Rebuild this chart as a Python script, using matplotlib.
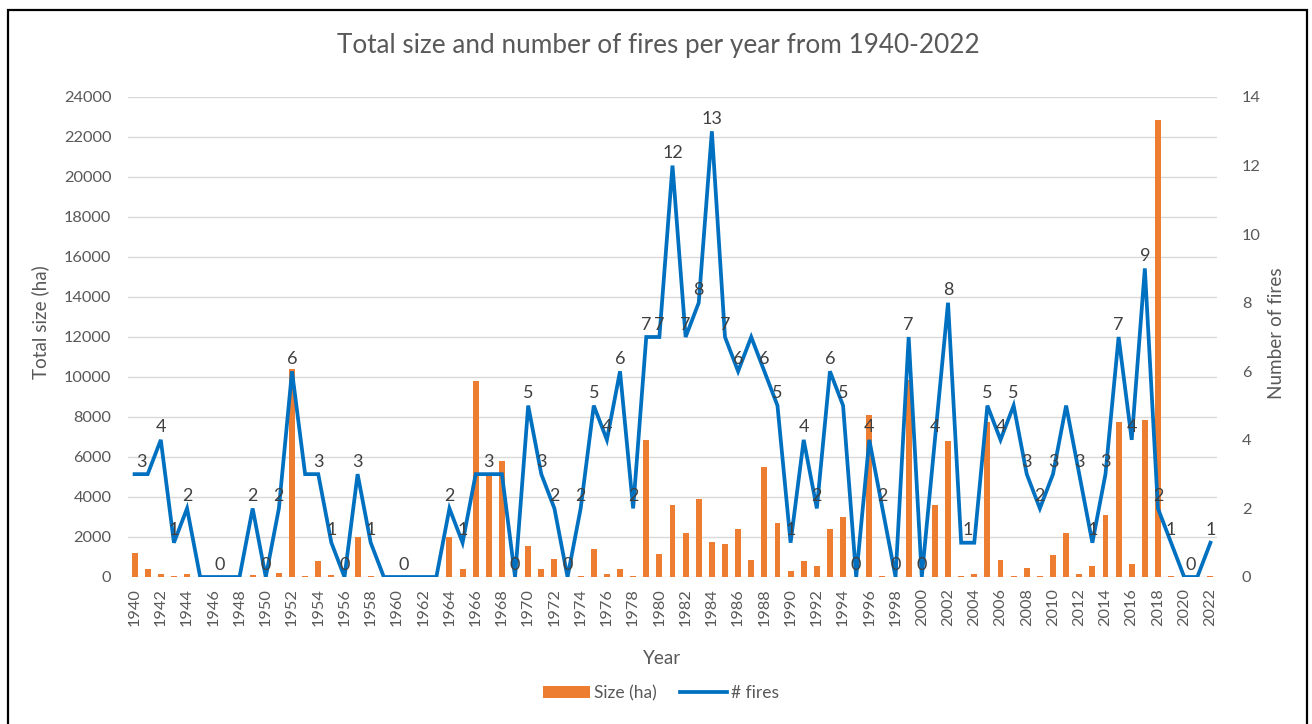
import matplotlib
matplotlib.use("Agg")
import matplotlib.pyplot as plt
from matplotlib.patches import Patch, Rectangle
from matplotlib.lines import Line2D
import numpy as np

plt.rcParams['font.family'] = ['Lato', 'DejaVu Sans']

years = list(range(1940, 2023))

size_ha = [1200, 400, 150, 50, 150, 0, 0, 0, 0, 100,
           0, 200, 10400, 50, 800, 100, 0, 2000, 50, 0,
           0, 0, 0, 0, 2000, 400, 9800, 5100, 5800, 0,
           1550, 400, 900, 0, 50, 1400, 150, 400, 50, 6870,
           1150, 3600, 2200, 3900, 1750, 1650, 2380, 870, 5500, 2680,
           300, 800, 550, 2400, 3000, 0, 8100, 50, 0, 9850,
           0, 3600, 6800, 50, 150, 7750, 870, 50, 450, 50,
           1100, 2180, 150, 550, 3100, 7750, 650, 7850, 22850, 50,
           0, 0, 50]

n_fires = [3, 3, 4, 1, 2, 0, 0, 0, 0, 2,
           0, 2, 6, 3, 3, 1, 0, 3, 1, 0,
           0, 0, 0, 0, 2, 1, 3, 3, 3, 0,
           5, 3, 2, 0, 2, 5, 4, 6, 2, 7,
           7, 12, 7, 8, 13, 7, 6, 7, 6, 5,
           1, 4, 2, 6, 5, 0, 4, 2, 0, 7,
           0, 4, 8, 1, 1, 5, 4, 5, 3, 2,
           3, 5, 3, 1, 3, 7, 4, 9, 2, 1,
           0, 0, 1]

# years whose data label is visible in the reference
label_years = [1940, 1942, 1943, 1944, 1946, 1949, 1950, 1951, 1952, 1954,
               1955, 1956, 1957, 1958, 1960, 1964, 1965, 1967, 1969, 1970,
               1971, 1972, 1973, 1974, 1975, 1976, 1977, 1978, 1979, 1980,
               1981, 1982, 1983, 1984, 1985, 1986, 1988, 1989, 1990, 1991,
               1992, 1993, 1994, 1995, 1996, 1997, 1998, 1999, 2000, 2001,
               2002, 2003, 2005, 2006, 2007, 2008, 2009, 2010, 2012, 2013,
               2014, 2015, 2016, 2017, 2018, 2019, 2020, 2022]
# labels centred on a flat run sit half a category to the right
label_shift = {1940: 0.5, 1946: 0.5, 1960: 0.5, 2003: 0.5, 2020: 0.5}

left_ticks = list(range(0, 24001, 2000))
right_ticks = list(range(0, 15, 2))

ORANGE = '#ED7D31'
BLUE = '#0070C0'
GREY_TXT = '#595959'
GRID = '#D9D9D9'

W, H = 1312, 724
fig = plt.figure(figsize=(W / 100, H / 100), dpi=100)
fig.patch.set_facecolor('white')

# chart border
border = Rectangle((8 / W, -0.05), (1307 - 8) / W, 1.05 - 10 / H, transform=fig.transFigure,
                   fill=False, edgecolor='black', linewidth=1.6, zorder=0)
fig.patches.append(border)

ax = fig.add_axes([128 / W, 1 - 577 / H, (1217 - 128) / W, (577 - 97) / H])
x = np.arange(len(years))
ax.bar(x, size_ha, width=0.45, color=ORANGE, zorder=2)
ax.set_xlim(-0.5, len(years) - 0.5)
ax.set_ylim(0, 24000)
ax.set_yticks(left_ticks)
ax.set_yticklabels([str(t) for t in left_ticks])
ax.grid(axis='y', color=GRID, linewidth=1.0, zorder=0)
ax.set_axisbelow(True)
for s in ax.spines.values():
    s.set_visible(False)
ax.tick_params(axis='both', length=0, colors=GREY_TXT, labelsize=11.8)
ax.tick_params(axis='y', pad=12)
ax.tick_params(axis='x', pad=8)
xt = [i for i, y in enumerate(years) if y % 2 == 0]
ax.set_xticks(xt)
ax.set_xticklabels([str(years[i]) for i in xt], rotation=90)

ax2 = ax.twinx()
ax2.plot(x, n_fires, color=BLUE, linewidth=2.7, zorder=3, solid_joinstyle='miter')
ax2.set_ylim(0, 14)
ax2.set_yticks(right_ticks)
ax2.set_yticklabels([str(t) for t in right_ticks])
for s in ax2.spines.values():
    s.set_visible(False)
ax2.tick_params(axis='y', length=0, colors=GREY_TXT, labelsize=11.8, pad=18)

for yr in label_years:
    i = years.index(yr)
    ax2.annotate(str(n_fires[i]), (i + label_shift.get(yr, 0), n_fires[i]),
                 xytext=(0, 9), textcoords='offset points', ha='center', va='center',
                 fontsize=13, color='#404040', zorder=5)

fig.text(658 / W, 1 - 45 / H, 'Total size and number of fires per year from 1940-2022',
         ha='center', va='center', fontsize=18.8, color=GREY_TXT)
fig.text(40 / W, 1 - 322 / H, 'Total size (ha)', rotation=90, ha='center', va='center',
         fontsize=13.6, color=GREY_TXT)
fig.text(1277 / W, 1 - 333 / H, 'Number of fires', rotation=90, ha='center', va='center',
         fontsize=13.6, color=GREY_TXT)
fig.text(662 / W, 1 - 659 / H, 'Year', ha='center', va='center', fontsize=13.6, color=GREY_TXT)

handles = [Patch(facecolor=ORANGE, edgecolor='none', label='Size (ha)'),
           Line2D([0], [0], color=BLUE, linewidth=2.7, label='# fires')]
leg = fig.legend(handles=handles, loc='center', bbox_to_anchor=(661 / W, 1 - 693 / H), ncol=2,
                 frameon=False, fontsize=12.5, handlelength=2.7, handletextpad=0.25,
                 columnspacing=1.3, labelcolor=GREY_TXT)

fig.savefig('out.png', dpi=100, facecolor='white')
